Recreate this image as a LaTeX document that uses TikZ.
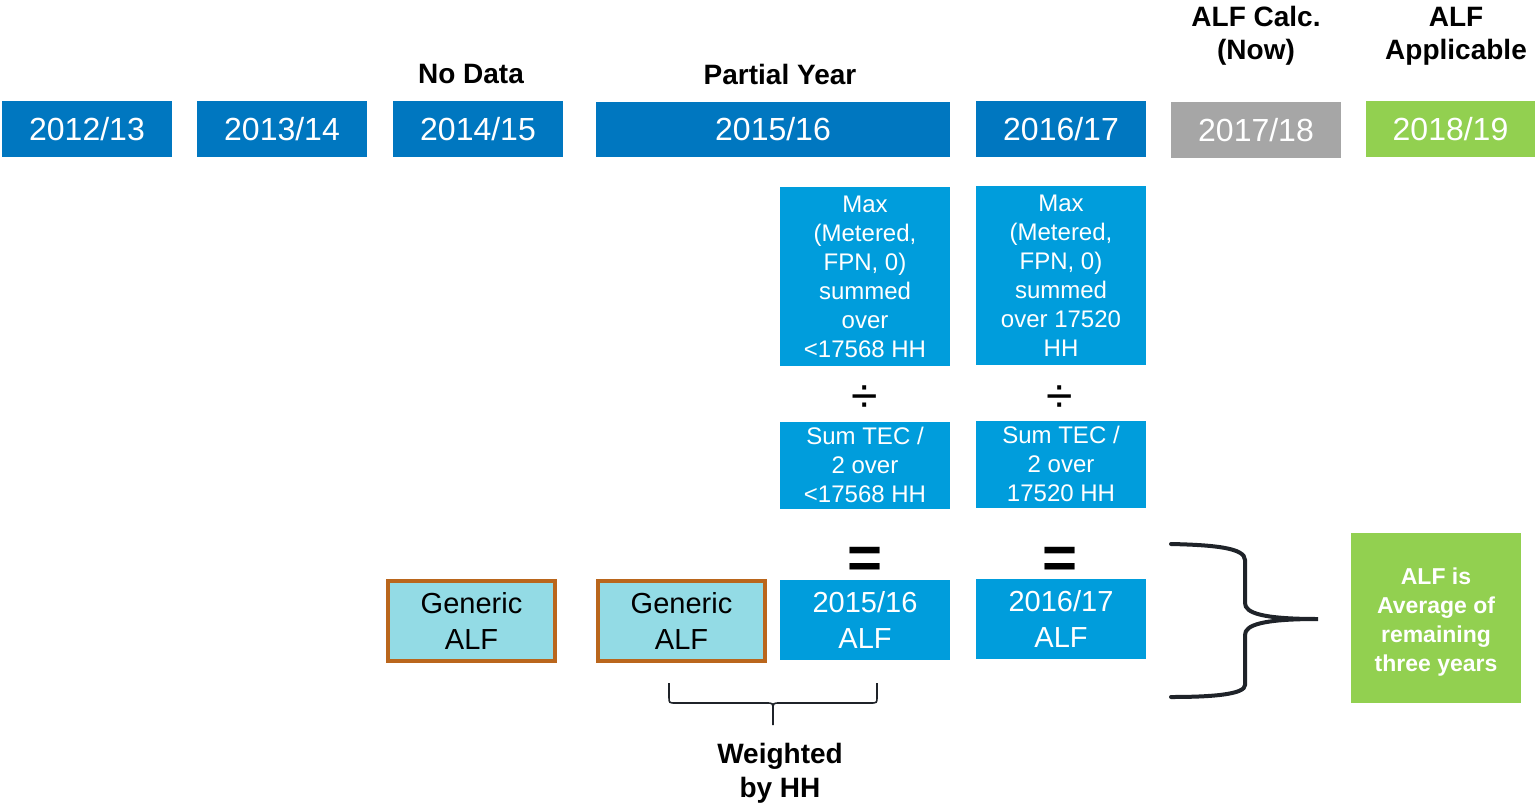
\documentclass[tikz,border=0pt]{standalone}
\usepackage{fontspec}
\setmainfont{Liberation Sans}
\definecolor{yearblue}{RGB}{0,119,192}
\definecolor{calcblue}{RGB}{0,157,220}
\definecolor{yeargray}{RGB}{166,166,166}
\definecolor{alfgreen}{RGB}{146,208,80}
\definecolor{genfill}{RGB}{147,219,229}
\definecolor{genline}{RGB}{186,102,28}
\definecolor{bracecol}{RGB}{31,35,41}
\begin{document}
\begin{tikzpicture}[x=0.5pt,y=-0.5pt,
    every node/.style={rectangle, inner sep=0pt, align=center},
    yearbox/.style={fill=yearblue, text=white, minimum width=85pt, minimum height=28pt, font=\fontsize{16}{19}\selectfont},
    headlabel/.style={font=\fontsize{14}{16.5}\selectfont\bfseries},
    calcbox/.style={fill=calcblue, text=white, minimum width=85pt, font=\fontsize{12}{14.5}\selectfont},
    alfbox/.style={fill=calcblue, text=white, minimum width=85pt, minimum height=40pt, font=\fontsize{14.5}{18}\selectfont},
    genbox/.style={fill=genfill, draw=genline, line width=2pt, minimum width=83.5pt, minimum height=40pt, font=\fontsize{14.5}{18}\selectfont},
    opsign/.style={font=\fontsize{24}{24}\selectfont},
    eqsign/.style={font=\fontsize{30}{30}\selectfont\bfseries},
    bigbrace/.style={draw=bracecol, line width=2pt, line cap=round},
    smallbrace/.style={draw=bracecol, line width=0.8pt}]
  \useasboundingbox (0,0) rectangle (1535,803);
  % year row
  \node (y1213) at (87,129) [yearbox] {2012/13};
  \node (y1314) at (282,129) [yearbox] {2013/14};
  \node (y1415) at (478,129) [yearbox] {2014/15};
  \node (y1516) at (773,129.5) [yearbox, minimum width=177pt, minimum height=27.5pt] {2015/16};
  \node (y1617) at (1061,129) [yearbox] {2016/17};
  \node (y1718) at (1256,130) [yearbox, fill=yeargray] {2017/18};
  \node (y1819) at (1450.5,129) [yearbox, fill=alfgreen, minimum width=84.5pt] {2018/19};
  % headings
  \node (nodata) at (471,74) [headlabel] {No Data};
  \node (partial) at (780,74) [headlabel] {Partial Year};
  \node (alfcalc) at (1256,36) [headlabel] {ALF Calc.\\(Now)};
  \node (alfappl) at (1456,36) [headlabel] {ALF\\Applicable};
  % calculation columns
  \node (max1516) at (865,276.5) [calcbox, minimum height=89.5pt] {Max\\(Metered,\\FPN, 0)\\summed\\over\\<17568 HH};
  \node (max1617) at (1061,275.5) [calcbox, minimum height=89.5pt] {Max\\(Metered,\\FPN, 0)\\summed\\over 17520\\HH};
  \node (div1516) at (865,399) [opsign] {÷};
  \node (div1617) at (1060,399) [opsign] {÷};
  \node (sum1516) at (865,465) [calcbox, minimum height=43.5pt] {Sum TEC /\\2 over\\<17568 HH};
  \node (sum1617) at (1061,464) [calcbox, minimum height=43.5pt] {Sum TEC /\\2 over\\17520 HH};
  \node (eq1516) at (865,563) [eqsign] {=};
  \node (eq1617) at (1060,563) [eqsign] {=};
  \node (alf1516) at (865,620) [alfbox] {2015/16\\ALF};
  \node (alf1617) at (1061,619) [alfbox] {2016/17\\ALF};
  \node (gen1415) at (471.5,621) [genbox] {Generic\\ALF};
  \node (gen1516) at (681.5,621) [genbox] {Generic\\ALF};
  % weighting brace
  \draw[smallbrace] (669,683) -- (669,697) .. controls (669,703) .. (676,703) -- (766,703)
    .. controls (773,703) .. (773,710) -- (773,725);
  \draw[smallbrace] (877,683) -- (877,697) .. controls (877,703) .. (870,703) -- (780,703)
    .. controls (773,703) .. (773,710);
  \node (weighted) at (780,773) [headlabel, font=\fontsize{14}{17}\selectfont\bfseries] {Weighted\\by HH};
  % average brace
  \draw[bigbrace] (1171,544) .. controls (1215,545) and (1245,548) .. (1245,560) -- (1245,603)
    .. controls (1245,613) and (1262,619) .. (1318,619)
    .. controls (1262,619) and (1245,625) .. (1245,635) -- (1245,685)
    .. controls (1245,694) and (1215,697) .. (1171,697);
  \node (average) at (1436,618) [fill=alfgreen, text=white, minimum width=85pt, minimum height=85pt,
    font=\fontsize{11.5}{14.5}\selectfont\bfseries] {\rule{0pt}{12.5pt}ALF is\\Average of\\remaining\\three years};
\end{tikzpicture}
\end{document}
